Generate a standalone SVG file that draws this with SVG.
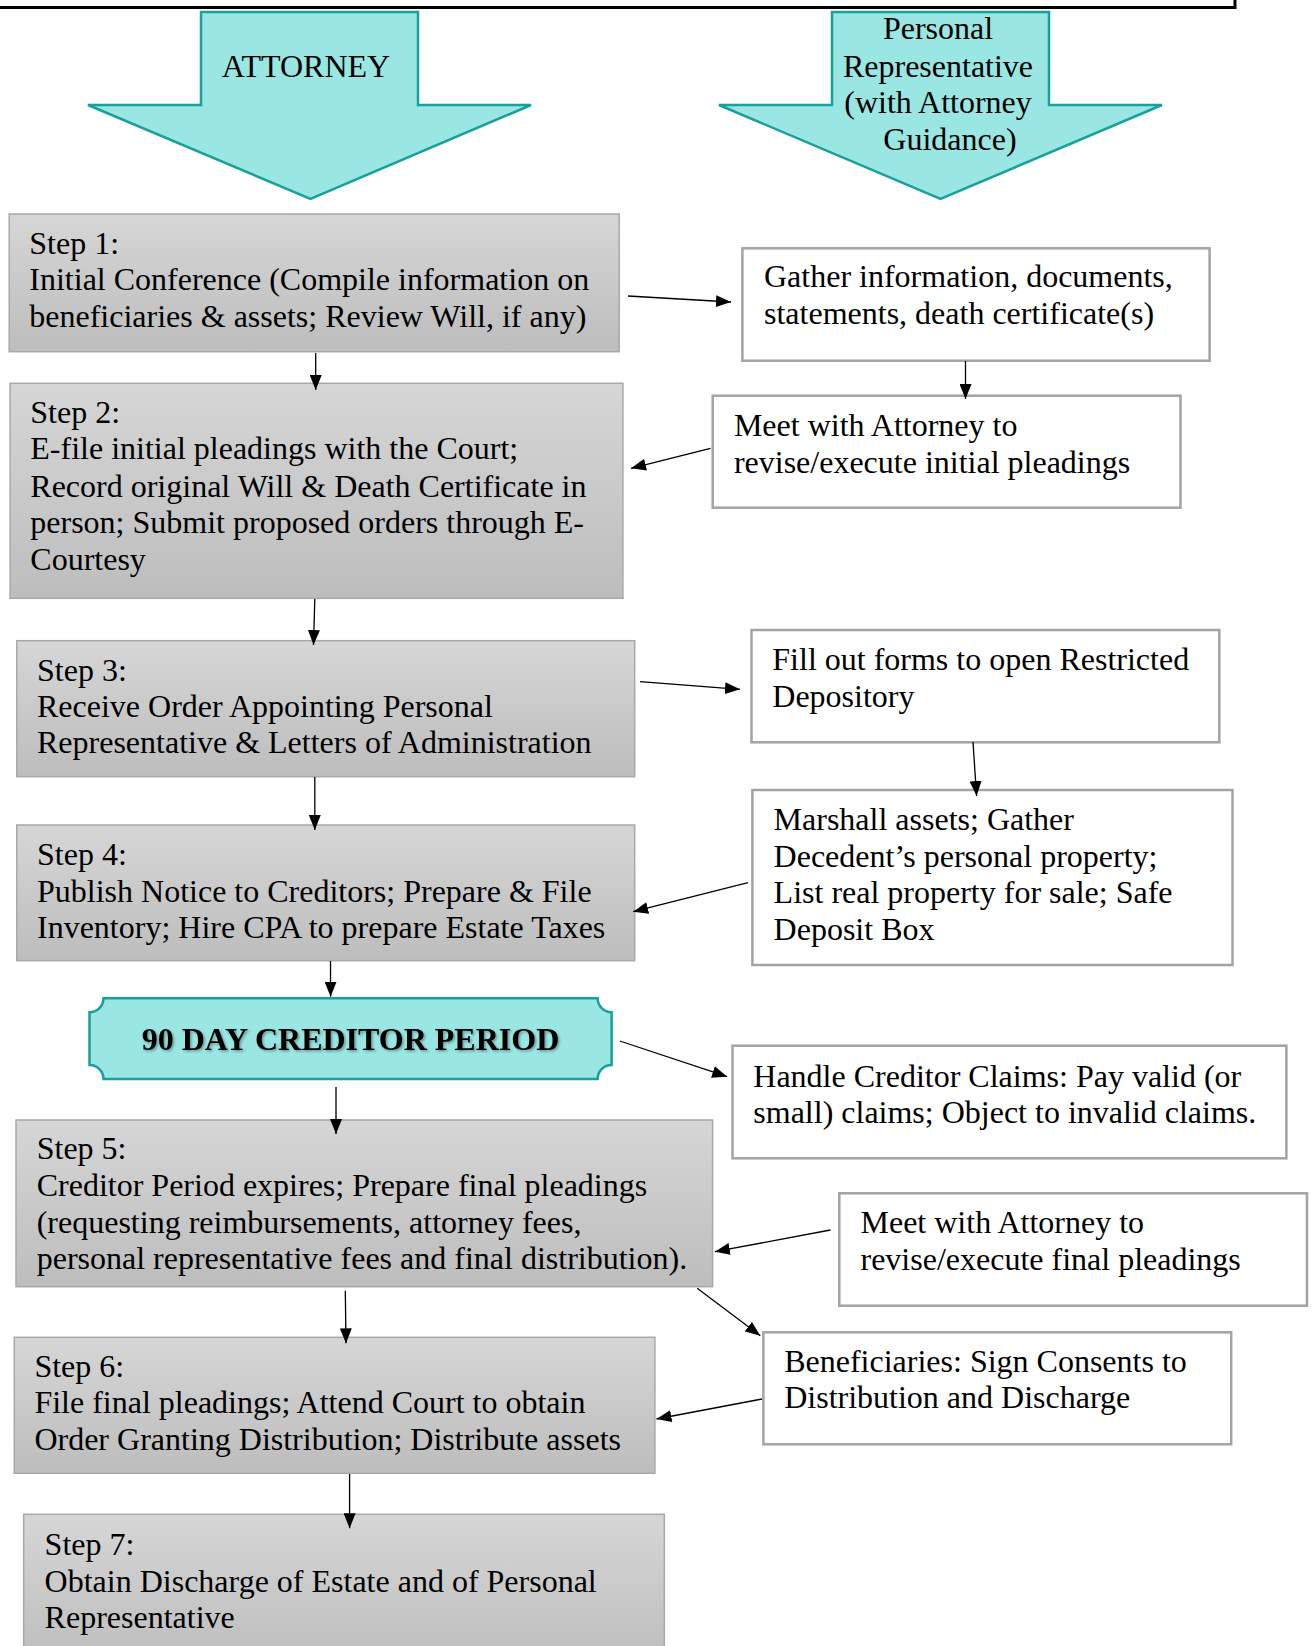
<svg xmlns="http://www.w3.org/2000/svg" width="1312" height="1646" viewBox="0 0 1312 1646">
<style>
text{font-family:"Liberation Serif","Times New Roman",serif;font-size:32px;fill:#000}
.step{fill:url(#gray);stroke:#a8a8a8;stroke-width:1.5}
.pr{fill:#fff;stroke:#a3a3a3;stroke-width:2.5}
.teal{fill:#99e6e3;stroke:#17a09c;stroke-width:2.5;stroke-linejoin:miter}
.conn line{stroke:#000;stroke-width:1.3;marker-end:url(#ah)}
.bold{font-weight:bold;filter:url(#ts)}
</style>
<defs>
<linearGradient id="gray" x1="0" y1="0" x2="0" y2="1">
<stop offset="0" stop-color="#d6d6d6"/>
<stop offset="1" stop-color="#bdbdbd"/>
</linearGradient>
<marker id="ah" markerUnits="userSpaceOnUse" markerWidth="15" markerHeight="12" refX="15" refY="6" orient="auto">
<path d="M0,0 L15,6 L0,12 z" fill="#000"/>
</marker>
<filter id="ts" x="-5%" y="-20%" width="110%" height="140%">
<feDropShadow dx="1.5" dy="1.5" stdDeviation="1" flood-color="#000" flood-opacity="0.35"/>
</filter>
</defs>
<rect width="1312" height="1646" fill="#fff"/>
<path d="M-5,7.5 H1235 V-5" fill="none" stroke="#000" stroke-width="3"/>

<g id="attorney-header">
<path class="teal" d="M201,12 H418 V105 H531 L310.5,199 L88,105 H201 Z"/>
<text x="306" y="77" text-anchor="middle">ATTORNEY</text>
</g>
<g id="pr-header">
<path class="teal" d="M832,12 H1049 V105 H1162 L940.5,199 L719,105 H832 Z"/>
<text text-anchor="middle"><tspan x="938" y="39.3">Personal</tspan><tspan x="938" y="76.7">Representative</tspan><tspan x="938" y="113.3">(with Attorney</tspan><tspan x="950" y="150">Guidance)</tspan></text>
</g>

<g id="step1">
<rect class="step" x="9.2" y="214" width="610" height="137.7"/>
<text><tspan x="29.3" y="254">Step 1:</tspan><tspan x="29.3" y="290">Initial Conference (Compile information on</tspan><tspan x="29.3" y="326.7">beneficiaries &amp; assets; Review Will, if any)</tspan></text>
</g>
<g id="gather">
<rect class="pr" x="742.4" y="248.3" width="467.2" height="112.4"/>
<text><tspan x="764" y="287.3">Gather information, documents,</tspan><tspan x="764" y="324">statements, death certificate(s)</tspan></text>
</g>
<g id="step2">
<rect class="step" x="10.1" y="383.3" width="612.8" height="215"/>
<text><tspan x="30.3" y="423.3">Step 2:</tspan><tspan x="30.3" y="459.3">E-file initial pleadings with the Court;</tspan><tspan x="30.3" y="496.7">Record original Will &amp; Death Certificate in</tspan><tspan x="30.3" y="533.3">person; Submit proposed orders through E-</tspan><tspan x="30.3" y="570">Courtesy</tspan></text>
</g>
<g id="meet-initial">
<rect class="pr" x="712.7" y="395.7" width="467.8" height="112"/>
<text><tspan x="733.9" y="436">Meet with Attorney to</tspan><tspan x="733.9" y="472.7">revise/execute initial pleadings</tspan></text>
</g>
<g id="step3">
<rect class="step" x="16.8" y="640.7" width="617.9" height="136"/>
<text><tspan x="37" y="681">Step 3:</tspan><tspan x="37" y="716.7">Receive Order Appointing Personal</tspan><tspan x="37" y="753.3">Representative &amp; Letters of Administration</tspan></text>
</g>
<g id="fill-forms">
<rect class="pr" x="751.5" y="630" width="467.8" height="112.3"/>
<text><tspan x="772.3" y="670">Fill out forms to open Restricted</tspan><tspan x="772.3" y="706.7">Depository</tspan></text>
</g>
<g id="step4">
<rect class="step" x="16.8" y="825" width="617.9" height="135.7"/>
<text><tspan x="37" y="865">Step 4:</tspan><tspan x="37" y="901.7">Publish Notice to Creditors; Prepare &amp; File</tspan><tspan x="37" y="938.3">Inventory; Hire CPA to prepare Estate Taxes</tspan></text>
</g>
<g id="marshall">
<rect class="pr" x="752.4" y="790" width="480.1" height="175"/>
<text><tspan x="773.6" y="830">Marshall assets; Gather</tspan><tspan x="773.6" y="866.7">Decedent’s personal property;</tspan><tspan x="773.6" y="903.3">List real property for sale; Safe</tspan><tspan x="773.6" y="940">Deposit Box</tspan></text>
</g>
<g id="creditor-period">
<path class="teal" d="M103.5,998.3 H597.6 A14,14 0 0 0 611.6,1012.3 V1065 A14,14 0 0 0 597.6,1079 H103.5 A14,14 0 0 0 89.5,1065 V1012.3 A14,14 0 0 0 103.5,998.3 Z"/>
<text class="bold" x="350.5" y="1050" text-anchor="middle">90 DAY CREDITOR PERIOD</text>
</g>
<g id="handle-claims">
<rect class="pr" x="732.5" y="1045.7" width="553.9" height="112.6"/>
<text><tspan x="753.3" y="1086.7">Handle Creditor Claims: Pay valid (or</tspan><tspan x="753.3" y="1123.3">small) claims; Object to invalid claims.</tspan></text>
</g>
<g id="step5">
<rect class="step" x="16" y="1120" width="696.6" height="166.7"/>
<text><tspan x="36.7" y="1159.3">Step 5:</tspan><tspan x="36.7" y="1196">Creditor Period expires; Prepare final pleadings</tspan><tspan x="36.7" y="1232.7">(requesting reimbursements, attorney fees,</tspan><tspan x="36.7" y="1269.3">personal representative fees and final distribution).</tspan></text>
</g>
<g id="meet-final">
<rect class="pr" x="839.3" y="1193.3" width="467.7" height="112.4"/>
<text><tspan x="860.5" y="1233.3">Meet with Attorney to</tspan><tspan x="860.5" y="1270">revise/execute final pleadings</tspan></text>
</g>
<g id="beneficiaries">
<rect class="pr" x="763.4" y="1332.3" width="467.8" height="112"/>
<text><tspan x="784.2" y="1371.7">Beneficiaries: Sign Consents to</tspan><tspan x="784.2" y="1408.3">Distribution and Discharge</tspan></text>
</g>
<g id="step6">
<rect class="step" x="14.3" y="1337.3" width="640.6" height="136"/>
<text><tspan x="34.4" y="1376.7">Step 6:</tspan><tspan x="34.4" y="1413.3">File final pleadings; Attend Court to obtain</tspan><tspan x="34.4" y="1450">Order Granting Distribution; Distribute assets</tspan></text>
</g>
<g id="step7">
<rect class="step" x="23.7" y="1514.3" width="640.6" height="150"/>
<text><tspan x="44.6" y="1555">Step 7:</tspan><tspan x="44.6" y="1591.7">Obtain Discharge of Estate and of Personal</tspan><tspan x="44.6" y="1628.3">Representative</tspan></text>
</g>

<g id="connectors" class="conn">
<line x1="628" y1="296" x2="731" y2="302"/>
<line x1="315.7" y1="353" x2="315.7" y2="390"/>
<line x1="965.5" y1="361" x2="965.5" y2="399"/>
<line x1="710.5" y1="448.3" x2="631" y2="468.3"/>
<line x1="314.8" y1="599" x2="313.5" y2="645"/>
<line x1="640" y1="681.7" x2="740" y2="689.3"/>
<line x1="314.8" y1="777" x2="314.8" y2="830"/>
<line x1="973" y1="742" x2="976.6" y2="796"/>
<line x1="748" y1="882.7" x2="633.2" y2="911.7"/>
<line x1="330.5" y1="961" x2="330.6" y2="996.7"/>
<line x1="619.8" y1="1041" x2="727.2" y2="1076.7"/>
<line x1="336" y1="1087" x2="336" y2="1134"/>
<line x1="830.5" y1="1230" x2="714.9" y2="1251.7"/>
<line x1="345.3" y1="1290.7" x2="346" y2="1343.3"/>
<line x1="697.2" y1="1288.3" x2="760.3" y2="1335.7"/>
<line x1="762" y1="1399" x2="656.5" y2="1419"/>
<line x1="349.6" y1="1474" x2="349.6" y2="1528.3"/>
</g>
</svg>
